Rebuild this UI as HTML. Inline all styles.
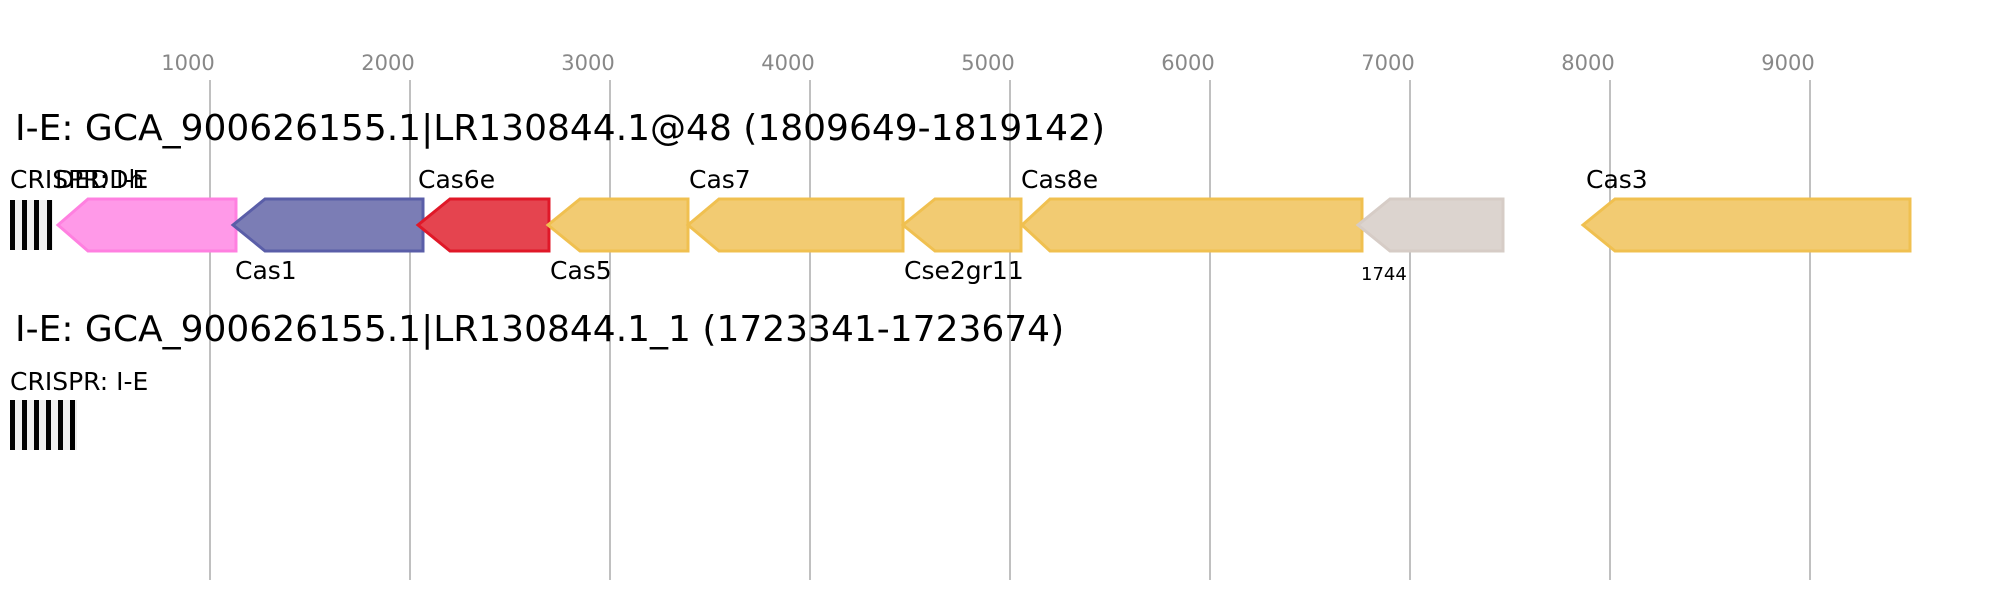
<!DOCTYPE html>
<html><head><meta charset="utf-8"><style>body{margin:0;background:#fff}svg{display:block}text{font-family:"DejaVu Sans","Liberation Sans",sans-serif}</style></head><body>
<svg width="1999" height="600" xmlns="http://www.w3.org/2000/svg">
<g stroke="#c0c0c0" stroke-width="2">
<line x1="210" y1="80" x2="210" y2="580"/><line x1="410" y1="80" x2="410" y2="580"/><line x1="610" y1="80" x2="610" y2="580"/><line x1="810" y1="80" x2="810" y2="580"/><line x1="1010" y1="80" x2="1010" y2="580"/><line x1="1210" y1="80" x2="1210" y2="580"/><line x1="1410" y1="80" x2="1410" y2="580"/><line x1="1610" y1="80" x2="1610" y2="580"/><line x1="1810" y1="80" x2="1810" y2="580"/>
</g>
<g fill="#888" font-size="21" text-anchor="middle">
<text x="188" y="70">1000</text><text x="388" y="70">2000</text><text x="588" y="70">3000</text><text x="788" y="70">4000</text><text x="988" y="70">5000</text><text x="1188" y="70">6000</text><text x="1388" y="70">7000</text><text x="1588" y="70">8000</text><text x="1788" y="70">9000</text>
</g>
<text x="15" y="140" font-size="36">I-E: GCA_900626155.1|LR130844.1@48 (1809649-1819142)</text>
<text x="15" y="341" font-size="36">I-E: GCA_900626155.1|LR130844.1_1 (1723341-1723674)</text>
<g font-size="25">
<text x="10" y="188">CRISPR: I-E</text><text x="55" y="188">DEDDh</text>
<text x="10" y="390">CRISPR: I-E</text>
</g>
<rect x="10" y="200" width="43" height="50" fill="#eee"/>
<g fill="#000"><rect x="10" y="200" width="5" height="50"/><rect x="22" y="200" width="5" height="50"/><rect x="34" y="200" width="5" height="50"/><rect x="47" y="200" width="5" height="50"/></g>
<rect x="10" y="400" width="67" height="50" fill="#eee"/>
<g fill="#000"><rect x="10" y="400" width="5" height="50"/><rect x="22" y="400" width="5" height="50"/><rect x="34" y="400" width="5" height="50"/><rect x="46" y="400" width="5" height="50"/><rect x="58" y="400" width="5" height="50"/><rect x="70" y="400" width="5" height="50"/></g>
<g stroke-width="3">
<polygon points="236,199 88,199 58,225 88,251 236,251" fill="#ff99e8" stroke="#ff80e0"/>
<polygon points="423,199 265,199 233,225 265,251 423,251" fill="#7b7db5" stroke="#5a5ea8"/>
<polygon points="549,199 450,199 418,225 450,251 549,251" fill="#e5444f" stroke="#e01828"/>
<polygon points="688,199 580,199 548,225 580,251 688,251" fill="#f2cb72" stroke="#f0c050"/>
<polygon points="903,199 719,199 688,225 719,251 903,251" fill="#f2cb72" stroke="#f0c050"/>
<polygon points="1021,199 935,199 903,225 935,251 1021,251" fill="#f2cb72" stroke="#f0c050"/>
<polygon points="1362,199 1050,199 1022,225 1050,251 1362,251" fill="#f2cb72" stroke="#f0c050"/>
<polygon points="1503,199 1390,199 1358,225 1390,251 1503,251" fill="#dcd4cf" stroke="#d6ccc6"/>
<polygon points="1910,199 1615,199 1583,225 1615,251 1910,251" fill="#f2cb72" stroke="#f0c050"/>
</g>
<g font-size="25">
<text x="418" y="188">Cas6e</text><text x="689" y="188">Cas7</text><text x="1021" y="188">Cas8e</text><text x="1586" y="188">Cas3</text>
<text x="235" y="279">Cas1</text><text x="550" y="279">Cas5</text><text x="904" y="279">Cse2gr11</text>
</g>
<text x="1361" y="280" font-size="18">1744</text>
</svg>
</body></html>
